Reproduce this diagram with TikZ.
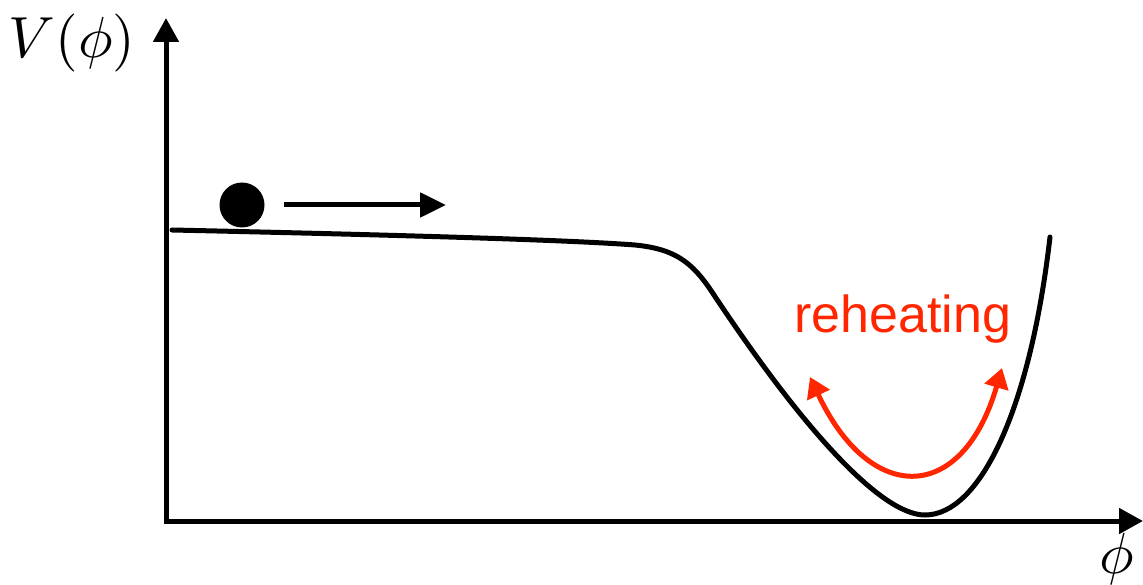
\documentclass[tikz,border=0pt]{standalone}
\usepackage{fontspec}
\newfontfamily\helv{Liberation Sans}
\usetikzlibrary{arrows.meta}
\definecolor{heatred}{RGB}{255,38,0}
\tikzset{
  axis/.style={line width=5pt,-{Triangle[length=24pt,width=25pt]}},
  potential/.style={line width=5pt,line cap=round},
  heat/.style={line width=5pt,heatred,{Triangle[length=20pt,width=24pt]}-{Triangle[length=20pt,width=24pt]}},
  mathlabel/.style={inner sep=0pt,scale=5.8},
}
\begin{document}
\begin{tikzpicture}[x=1pt,y=-1pt]
\useasboundingbox (0,0) rectangle (1143,585);
% axes
\coordinate (ytip) at (166,18);
\coordinate (xtip) at (1143,521);
\draw[axis] (166,523.5) -- (ytip);
\draw[axis] (163.5,521) -- (xtip);
\node[mathlabel] (vlabel) at (72,43) {$V(\phi)$};
\node[mathlabel,anchor=base] (philabel) at (1117,573) {$\phi$};
% potential
\draw[potential] (172,230) .. controls (400,235) and (570,240) .. (635,245)
  .. controls (675,249) and (692,262) .. (712,292)
  .. controls (800,425) and (880,515) .. (925,515)
  .. controls (980,515) and (1030,410) .. (1050,237);
% ball and arrow
\fill (242,205) circle (22.5);
\node[circle,inner sep=0pt,minimum size=45pt] (ball) at (242,205) {};
\coordinate (mstart) at (284,205);
\coordinate (mend) at (446,205);
\draw[line width=5pt,-{Triangle[length=26pt,width=24pt]}] (mstart) -- (mend);
% reheating
\node[heatred,font=\helv\fontsize{52}{54}\selectfont,anchor=base west,inner sep=0pt] (reheat) at (794,332) {reheating};
\coordinate (hl) at (810,377);
\coordinate (hr) at (1002,368);
\draw[heat] (hl) .. controls (870,505) and (962,505) .. (hr);
\end{tikzpicture}
\end{document}
